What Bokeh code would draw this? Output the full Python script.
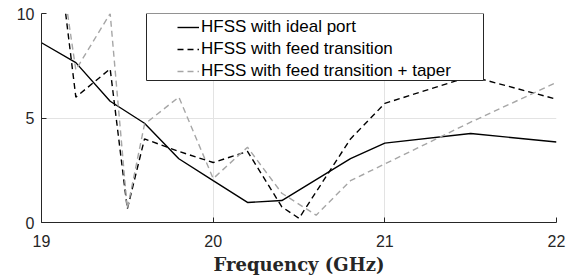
from bokeh.plotting import figure
from bokeh.models import Range1d, Legend, LegendItem, BoxAnnotation, FixedTicker
from bokeh.embed import file_html
from bokeh.resources import INLINE

# ---- data ----
freq_ideal = [19.0, 19.2, 19.4, 19.6, 19.8, 20.0, 20.2, 20.4, 20.8, 21.0, 21.5, 22.0]
val_ideal = [8.6, 7.65, 5.8, 4.75, 3.05, 2.0, 0.96, 1.05, 3.06, 3.8, 4.26, 3.85]

freq_feed = [19.0, 19.2, 19.4, 19.5, 19.6, 19.8, 20.0, 20.2, 20.4, 20.5, 20.8, 21.0, 21.5, 22.0]
val_feed = [19.5, 6.0, 7.35, 0.65, 4.0, 3.4, 2.87, 3.4, 0.75, 0.2, 4.0, 5.7, 7.0, 5.9]

freq_taper = [19.0, 19.2, 19.4, 19.5, 19.6, 19.8, 20.0, 20.2, 20.4, 20.6, 20.8, 21.0, 21.5, 22.0]
val_taper = [18.5, 7.3, 10.0, 0.65, 4.7, 6.0, 2.1, 3.6, 1.4, 0.35, 2.0, 2.8, 4.8, 6.7]

labels = ["HFSS with ideal port", "HFSS with feed transition", "HFSS with feed transition + taper"]
x_ticks = [19, 20, 21, 22]
y_ticks = [0, 5, 10]

p = figure(width=574, height=277, output_backend="svg", toolbar_location=None,
           x_range=Range1d(19, 22), y_range=Range1d(0, 10),
           min_border_left=41, min_border_right=18, min_border_top=13, min_border_bottom=55)
p.outline_line_color = None
p.background_fill_color = "white"

r1 = p.line(freq_ideal, val_ideal, line_color="black", line_width=1.4)
r2 = p.line(freq_feed, val_feed, line_color="black", line_width=1.4, line_dash="6 4")
r3 = p.line(freq_taper, val_taper, line_color="#a6a6a6", line_width=1.4, line_dash="6 4")

for ax in (p.xaxis[0], p.yaxis[0]):
    ax.major_tick_in = 5
    ax.major_tick_out = 0
    ax.minor_tick_in = 0
    ax.minor_tick_out = 0
    ax.axis_line_color = "#262626"
    ax.major_tick_line_color = "#262626"
    ax.major_label_text_font = "Liberation Sans"
    ax.major_label_text_font_size = "16px"
    ax.major_label_text_color = "#262626"

p.xaxis.ticker = FixedTicker(ticks=x_ticks)
p.yaxis.ticker = FixedTicker(ticks=y_ticks)
p.xaxis.major_label_standoff = 12
p.yaxis.major_label_standoff = 7
p.xaxis.axis_label = "Frequency (GHz)"
p.xaxis.axis_label_text_font = "DejaVu Serif"
p.xaxis.axis_label_text_font_style = "bold"
p.xaxis.axis_label_text_font_size = "18px"
p.xaxis.axis_label_text_color = "#262626"
p.xaxis.axis_label_standoff = 4

p.xgrid.grid_line_color = "#e3e3e3"
p.ygrid.grid_line_color = "#e3e3e3"

box = BoxAnnotation(left=105, right=442, bottom=142, top=209,
                    left_units="screen", right_units="screen",
                    bottom_units="screen", top_units="screen",
                    fill_color="white", fill_alpha=1.0,
                    line_color="#262626", line_width=1, line_alpha=1.0)
p.add_layout(box)

legend = Legend(items=[LegendItem(label=labels[0], renderers=[r1]),
                       LegendItem(label=labels[1], renderers=[r2]),
                       LegendItem(label=labels[2], renderers=[r3])],
                location=(136, 141), padding=1, spacing=2, margin=0,
                glyph_width=22, glyph_height=20, label_height=20,
                label_standoff=2,
                label_text_font="Liberation Sans", label_text_font_size="17px",
                label_text_color="black",
                border_line_color=None, background_fill_alpha=0)
p.add_layout(legend)

open("out.html", "w").write(file_html(p, INLINE))
